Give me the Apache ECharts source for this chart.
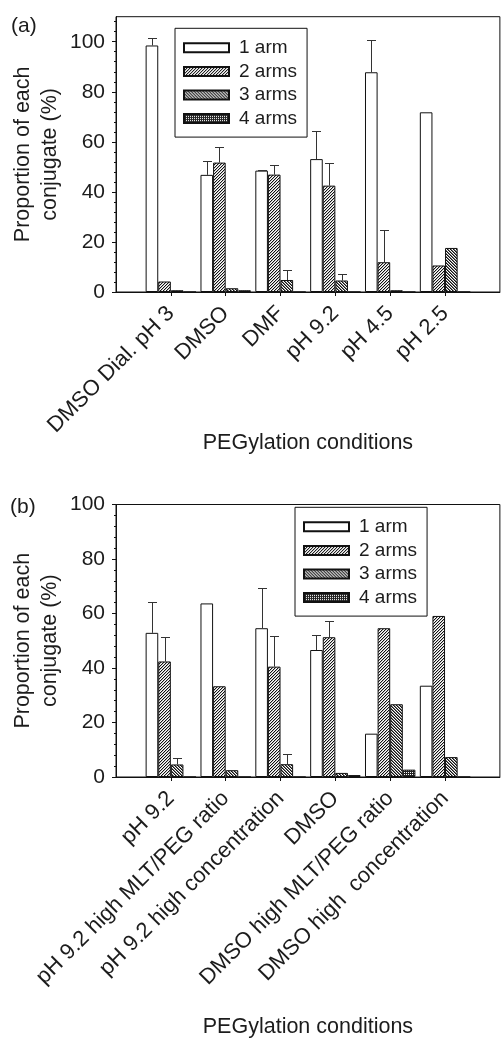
<!DOCTYPE html>
<html>
<head>
<meta charset="utf-8">
<script src="https://cdn.jsdelivr.net/npm/echarts@6/dist/echarts.min.js"></script>
<style>
html,body{margin:0;padding:0;background:#fff;}
#chart{width:502px;height:1039px;}
</style>
</head>
<body>
<div id="chart"></div>
<script>
// ---------- data ----------
const armNames = ['1 arm', '2 arms', '3 arms', '4 arms'];

const categoriesA = ['DMSO Dial. pH 3', 'DMSO', 'DMF', 'pH 9.2', 'pH 4.5', 'pH 2.5'];
const a1arm  = [98.5, 46.8, 48.5, 53.1, 87.8, 71.8];
const a2arms = [4.2, 51.7, 46.9, 42.5, 11.9, 10.6];
const a3arms = [0.7, 1.5, 4.8, 4.6, 0.7, 17.6];
const a4arms = [0, 0.7, 0, 0, 0, 0];
const a1armErr  = [3.0, 5.7, 0.3, 11.4, 13.0, null];
const a2armsErr = [null, 6.1, 3.9, 9.1, 12.8, null];
const a3armsErr = [null, null, 4.0, 2.4, null, null];
const a4armsErr = [null, null, null, null, null, null];

const categoriesB = ['pH 9.2', 'pH 9.2 high MLT/PEG ratio', 'pH 9.2 high concentration', 'DMSO', 'DMSO high MLT/PEG ratio', 'DMSO high  concentration'];
const b1arm  = [52.9, 63.7, 54.6, 46.6, 15.9, 33.5];
const b2arms = [42.4, 33.3, 40.5, 51.3, 54.6, 59.1];
const b3arms = [4.6, 2.5, 4.7, 1.5, 26.7, 7.3];
const b4arms = [0, 0, 0, 0.7, 2.7, 0];
const b1armErr  = [11.5, null, 14.9, 5.6, null, null];
const b2armsErr = [8.9, null, 11.1, 6.1, null, null];
const b3armsErr = [2.4, null, 3.7, null, null, null];
const b4armsErr = [null, null, null, null, null, null];

const yTicksMajor = [0, 20, 40, 60, 80, 100];
const yTicksMinorA = [0,4,8,12,16,20,24,28,32,36,40,44,48,52,56,60,64,68,72,76,80,84,88,92,96,100,104,108];
const yTicksMinorB = [0,4,8,12,16,20,24,28,32,36,40,44,48,52,56,60,64,68,72,76,80,84,88,92,96,100];

const yTitle = 'Proportion of each\nconjugate (%)';
const xTitle = 'PEGylation conditions';

// ---------- styles ----------
const FONT = "'Liberation Sans', Arial, Helvetica, sans-serif";
const TXT = '#1c1c1c';
const BW = 12.6;

function makePattern(size, fn) {
  const c = document.createElement('canvas');
  c.width = size; c.height = size;
  const ctx = c.getContext('2d');
  ctx.fillStyle = '#fff';
  ctx.fillRect(0, 0, size, size);
  for (let y = 0; y < size; y++) {
    for (let x = 0; x < size; x++) {
      const col = fn(x, y);
      if (col) { ctx.fillStyle = col; ctx.fillRect(x, y, 1, 1); }
    }
  }
  return { image: c, repeat: 'repeat' };
}
const fills = [
  '#ffffff',
  makePattern(3, (x, y) => ((x + y) % 3 === 0 ? '#111' : ((x + y) % 3 === 1 ? '#bbb' : null))),
  makePattern(3, (x, y) => ((x - y + 3) % 3 === 0 ? '#111' : ((x - y + 3) % 3 === 1 ? '#777' : null))),
  makePattern(2, (x, y) => ((x === 0 && y === 0) ? null : '#222'))
];

function pad(arr) { return [null].concat(arr, [null]); }
function padCats(arr) { return [''].concat(arr, ['']); }

function errRenderer(k) {
  return function (params, api) {
    const i = api.value(0), v = api.value(1), e = api.value(2);
    const p0 = api.coord([i, v]);
    const p1 = api.coord([i, v + e]);
    const x = Math.round(p0[0] + (k - 1.5) * BW) + 0.5;
    const y0 = p0[1], y1 = Math.round(p1[1]) + 0.5;
    return {
      type: 'group',
      children: [
        { type: 'line', shape: { x1: x, y1: y0, x2: x, y2: y1 }, style: { stroke: '#333', lineWidth: 1 } },
        { type: 'line', shape: { x1: x - 4.5, y1: y1, x2: x + 4.5, y2: y1 }, style: { stroke: '#333', lineWidth: 1 } }
      ]
    };
  };
}

function buildPanel(idx, vals, errs) {
  const series = [];
  vals.forEach((arr, k) => {
    series.push({
      name: armNames[k], type: 'bar', xAxisIndex: idx, yAxisIndex: idx * 2,
      data: pad(arr), barWidth: BW, barGap: '0%',
      itemStyle: { color: fills[k], borderColor: '#111', borderWidth: 1 },
      emphasis: { disabled: true }, animation: false, z: 2
    });
  });
  errs.forEach((arr, k) => {
    const d = [];
    arr.forEach((e, i) => { if (e !== null) d.push([i + 1, vals[k][i], e]); });
    if (d.length) {
      series.push({
        type: 'custom', xAxisIndex: idx, yAxisIndex: idx * 2, data: d,
        renderItem: errRenderer(k), animation: false, z: 3, silent: true
      });
    }
  });
  return series;
}

function xAxisFor(idx, cats) {
  return {
    type: 'category', gridIndex: idx, data: padCats(cats), boundaryGap: false,
    axisLine: { show: true, onZero: false, lineStyle: { color: '#111', width: 1 } },
    axisTick: { show: true, length: 4, inside: false, interval: (i, v) => v !== '', lineStyle: { color: '#111' } },
    axisLabel: { interval: 0, rotate: 45, margin: 18, verticalAlign: 'middle', align: 'right',
                 fontSize: 22, fontFamily: FONT, color: TXT },
    splitLine: { show: false },
    name: xTitle, nameLocation: 'middle', nameGap: idx === 0 ? 140 : 239, nameMoveOverlap: false,
    nameTextStyle: { fontSize: 21.5, fontFamily: FONT, color: TXT }
  };
}
function yAxesFor(idx, max, minorVals) {
  return [{
    type: 'value', gridIndex: idx, min: 0, max: max, interval: 4,
    axisLine: { show: true, lineStyle: { color: '#111', width: 1 } },
    axisTick: { show: true, length: 2, customValues: minorVals, lineStyle: { color: '#111' } },
    axisLabel: { customValues: yTicksMajor, margin: 11, fontSize: 21, fontFamily: FONT, color: TXT },
    splitLine: { show: false },
    name: yTitle, nameLocation: 'middle', nameRotate: 90, nameGap: 52, nameMoveOverlap: false,
    nameTextStyle: { fontSize: 21.5, lineHeight: 27, fontFamily: FONT, color: TXT, align: 'center' }
  }, {
    type: 'value', gridIndex: idx, min: 0, max: max, interval: 20, position: 'left', offset: 0,
    axisLine: { show: false },
    axisTick: { show: true, length: 4, customValues: yTicksMajor, lineStyle: { color: '#111' } },
    axisLabel: { show: false },
    splitLine: { show: false }
  }];
}

const legendCommon = {
  orient: 'vertical', data: armNames, icon: 'rect',
  itemWidth: 45, itemHeight: 9, itemGap: 4.6,
  borderColor: '#111', borderWidth: 1, borderRadius: 0,
  padding: [10, 10, 9, 8], backgroundColor: '#fff',
  textStyle: { fontSize: 19, lineHeight: 19, fontFamily: FONT, color: TXT, padding: [0, 0, 0, 5] },
  selectedMode: false
};

const chart = echarts.init(document.getElementById('chart'), null, { renderer: 'canvas' });
const option = {
  animation: false,
  backgroundColor: '#fff',
  title: [
    { text: '(a)', left: 11, top: 16, padding: 0, textStyle: { fontSize: 21, fontWeight: 'normal', fontFamily: FONT, color: TXT } },
    { text: '(b)', left: 10, top: 497, padding: 0, textStyle: { fontSize: 21, fontWeight: 'normal', fontFamily: FONT, color: TXT } }
  ],
  grid: [
    { left: 116, top: 16.7, width: 392.7, height: 275.3, show: true, borderColor: '#111', borderWidth: 1, backgroundColor: 'transparent' },
    { left: 116, top: 504.5, width: 387.8, height: 274.2, show: true, borderColor: '#111', borderWidth: 1, backgroundColor: 'transparent' }
  ],
  legend: [
    Object.assign({}, legendCommon, { left: 175, top: 28.3 }),
    Object.assign({}, legendCommon, { left: 295, top: 507.3 })
  ],
  xAxis: [xAxisFor(0, categoriesA), xAxisFor(1, categoriesB)],
  yAxis: yAxesFor(0, 110, yTicksMinorA).concat(yAxesFor(1, 100, yTicksMinorB)),
  series: buildPanel(0, [a1arm, a2arms, a3arms, a4arms], [a1armErr, a2armsErr, a3armsErr, a4armsErr])
    .concat(buildPanel(1, [b1arm, b2arms, b3arms, b4arms], [b1armErr, b2armsErr, b3armsErr, b4armsErr]))
};
chart.setOption(option);
</script>
</body>
</html>
